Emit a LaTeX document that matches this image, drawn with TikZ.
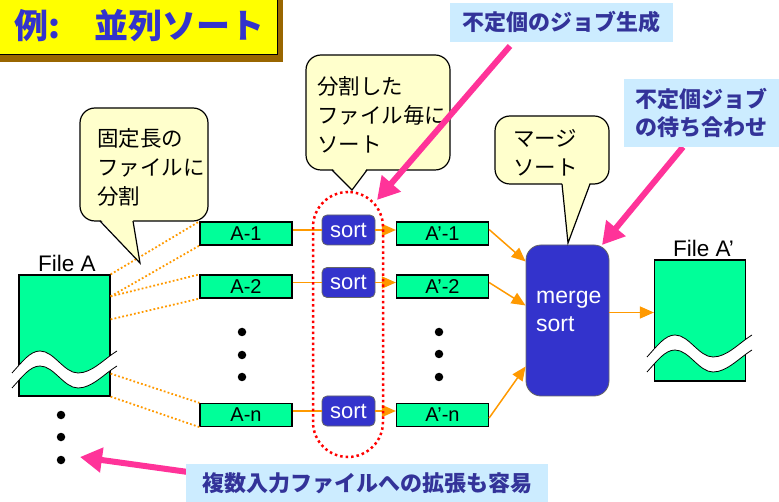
\documentclass[tikz,border=0pt]{standalone}
\usepackage{fontspec}
\setmainfont{Liberation Sans}
\newfontfamily\jp{Noto Sans CJK JP}
\usetikzlibrary{arrows.meta}
\definecolor{boxgreen}{HTML}{00FF99}
\definecolor{sortblue}{HTML}{3333CC}
\definecolor{flow}{HTML}{FF9900}
\definecolor{hot}{HTML}{FF3399}
\definecolor{notebg}{HTML}{CCECFF}
\definecolor{notetxt}{HTML}{333399}
\definecolor{calloutbg}{HTML}{FFFFCC}
\definecolor{titlebg}{HTML}{FFFF00}
\definecolor{titleshadow}{HTML}{996600}

\begin{document}
\begin{tikzpicture}[x=1pt,y=-1pt,
  part/.style={draw=black, line width=1.2pt, fill=boxgreen, minimum width=92pt,
    minimum height=23pt, inner sep=0pt, font=\fontsize{20}{22}\selectfont},
  sorter/.style={draw=black!60, line width=0.8pt, fill=sortblue, rounded corners=5pt,
    text=white, minimum width=53pt, minimum height=30pt, inner sep=0pt,
    font=\fontsize{22}{24}\selectfont},
  filebox/.style={draw=black, line width=1.2pt, fill=boxgreen, minimum width=91pt,
    minimum height=121pt, inner sep=0pt},
  mergebox/.style={draw=black!60, line width=0.8pt, fill=sortblue, rounded corners=15pt,
    minimum width=83pt, minimum height=151pt, inner sep=0pt},
  flowline/.style={draw=flow, line width=1.5pt},
  flowarrow/.style={flowline, -{Triangle[length=14pt,width=12pt]}},
  splitline/.style={draw=flow, line width=1.8pt, dash pattern=on 1.8pt off 2.2pt},
  callout/.style={fill=calloutbg, draw=black, line width=1.2pt},
  ctext/.style={align=left, inner sep=0pt, font=\jp\fontsize{21.5}{29}\selectfont, anchor=west},
  note/.style={fill=notebg, text=notetxt, inner sep=0pt, font=\jp\bfseries\fontsize{22}{28}\selectfont},
  pointer/.style={draw=hot, line width=6pt, -{Triangle[length=22pt,width=24pt]}},
  dot/.style={circle, fill=black, inner sep=0pt, minimum size=8.5pt},
  group/.style={draw=red, line width=2.5pt, dash pattern=on 2.5pt off 3pt,
    rounded corners=35pt, minimum width=70pt, minimum height=265pt, inner sep=0pt},
  label/.style={inner sep=0pt, font=\fontsize{22.5}{24}\selectfont},
  wavecut/.pic={
    \fill[white] (0,0) .. controls (10,-11) and (18,-22) .. (28,-22)
      .. controls (42,-22) and (52,0) .. (66,0)
      .. controls (80,0) and (92,-14) .. (105,-22) -- (105,-7)
      .. controls (92,1) and (80,15) .. (66,15)
      .. controls (52,15) and (42,-7) .. (28,-7)
      .. controls (18,-7) and (10,4) .. (0,15) -- cycle;
    \draw[line width=0.8pt] (0,0) .. controls (10,-11) and (18,-22) .. (28,-22)
      .. controls (42,-22) and (52,0) .. (66,0)
      .. controls (80,0) and (92,-14) .. (105,-22);
    \draw[line width=0.8pt] (0,15) .. controls (10,4) and (18,-7) .. (28,-7)
      .. controls (42,-7) and (52,15) .. (66,15)
      .. controls (80,15) and (92,1) .. (105,-7);
  }
]
\useasboundingbox (0,0) rectangle (779,502);

% title plate with its drop shadow
\fill[titleshadow] (-5,-5) rectangle (283,62);
\draw[fill=titlebg, line width=0.8pt] (-5,-5) rectangle (277,54);
\node[anchor=west, text=sortblue, inner sep=0pt,
  font=\jp\bfseries\fontsize{34}{40}\selectfont] (title) at (14,26) {例:\hspace{34pt}並列ソート};

% input file and its pieces
\node[filebox] (fa) at (64.5,335.5) {};
\node[label, anchor=base] (lfa) at (67,272) {File A};
\pic at (12,373) {wavecut};
\node[dot] (fd1) at (61,415) {};
\node[dot] (fd2) at (61,437) {};
\node[dot] (fd3) at (61,460) {};

\node[part] (a1) at (246,233.5) {A-1};
\node[part] (a2) at (246,286.5) {A-2};
\node[part] (an) at (246,415) {A-n};
\node[dot] (ad1) at (242,332) {};
\node[dot] (ad2) at (242,355) {};
\node[dot] (ad3) at (242,377) {};

\draw[splitline] (fa.north east) -- (a1.north west);
\draw[splitline] ([yshift=-22pt]fa.north east) -- (a1.south west);
\draw[splitline] ([yshift=-22pt]fa.north east) -- (a2.north west);
\draw[splitline] ([yshift=-45pt]fa.north east) -- (a2.south west);
\draw[splitline] ([yshift=23pt]fa.south east) -- (an.north west);
\draw[splitline] (fa.south east) -- (an.south west);

% sort jobs
\node[sorter] (s1) at (348.5,230) {sort};
\node[sorter] (s2) at (348.5,282.5) {sort};
\node[sorter] (sn) at (348.5,411) {sort};

% sorted pieces
\node[part] (b1) at (442.5,233.5) {A’-1};
\node[part] (b2) at (442.5,286.5) {A’-2};
\node[part] (bn) at (442.5,415) {A’-n};
\node[dot] (bd1) at (439,332) {};
\node[dot] (bd2) at (439,354) {};
\node[dot] (bd3) at (439,377) {};

\draw[flowline] (a1.east |- s1.west) -- (s1.west);
\draw[flowline] (a2.east |- s2.west) -- (s2.west);
\draw[flowline] (an.east |- sn.west) -- (sn.west);
\draw[flowarrow] (s1.east) -- (s1.east -| b1.west);
\draw[flowarrow] (s2.east) -- (s2.east -| b2.west);
\draw[flowarrow] (sn.east) -- (sn.east -| bn.west);

% group of sort jobs
\node[group] (grp) at (348,324.5) {};

% merge step and output file
\node[mergebox] (mg) at (567.5,320.5) {};
\node[anchor=west, text=white, align=left, inner sep=0pt,
  font=\fontsize{23}{28}\selectfont] (mgt) at (536,311) {merge\\sort};
\node[filebox] (fb) at (700,320.5) {};
\node[label, anchor=base] (lfb) at (703.5,257) {File A’};
\pic at (647,357) {wavecut};

\draw[flowarrow] ([yshift=4pt]b1.east) -- ([yshift=59pt]mg.west);
\draw[flowarrow] ([yshift=4pt]b2.east) -- ([yshift=15pt]mg.west);
\draw[flowarrow] ([yshift=-3pt]bn.east) -- ([yshift=-46pt]mg.west);
\draw[flowarrow] ([yshift=8pt]mg.east) -- ([yshift=8pt]mg.east -| fb.west);

% speech balloons
\draw[callout, rounded corners=15pt] (80,108) rectangle (208,221);
\fill[calloutbg] (100,219) -- (140,263) -- (133,219) -- cycle;
\draw[line width=1.2pt] (100,221) -- (140,263) -- (133,221);
\node[ctext] (c1) at (97,167) {固定長の\\ファイルに\\分割};

\draw[callout, rounded corners=15pt] (306,55) rectangle (450,170);
\fill[calloutbg] (332,168) -- (352,190) -- (367,168) -- cycle;
\draw[line width=1.2pt] (332,170) -- (352,190) -- (367,170);
\node[ctext] (c2) at (317,115) {分割した\\ファイル毎に\\ソート};

\draw[callout, rounded corners=15pt] (495,116) rectangle (609,184);
\fill[calloutbg] (562,182) -- (568,243) -- (590,182) -- cycle;
\draw[line width=1.2pt] (562,184) -- (568,243) -- (590,184);
\node[ctext] (c3) at (513,152.5) {マージ\\ソート};

% highlighted remarks
\coordinate (p1s) at (510,46);
\coordinate (p1e) at (377,200);
\coordinate (p2s) at (683,147);
\coordinate (p2e) at (602,245);
\coordinate (p3s) at (188,472);
\coordinate (p3e) at (80,457);
\draw[pointer] (p1s) -- (p1e);
\draw[pointer] (p2s) -- (p2e);
\draw[pointer] (p3s) -- (p3e);

\node[note, minimum width=223pt, minimum height=39pt] (gen) at (561.5,22.5) {不定個のジョブ生成};
\node[note, minimum width=155pt, minimum height=68pt, align=left] (wait) at (701.5,113)
  {不定個ジョブ\\の待ち合わせ};
\node[note, minimum width=362pt, minimum height=38pt] (ext) at (367,483) {複数入力ファイルへの拡張も容易};
\end{tikzpicture}
\end{document}
